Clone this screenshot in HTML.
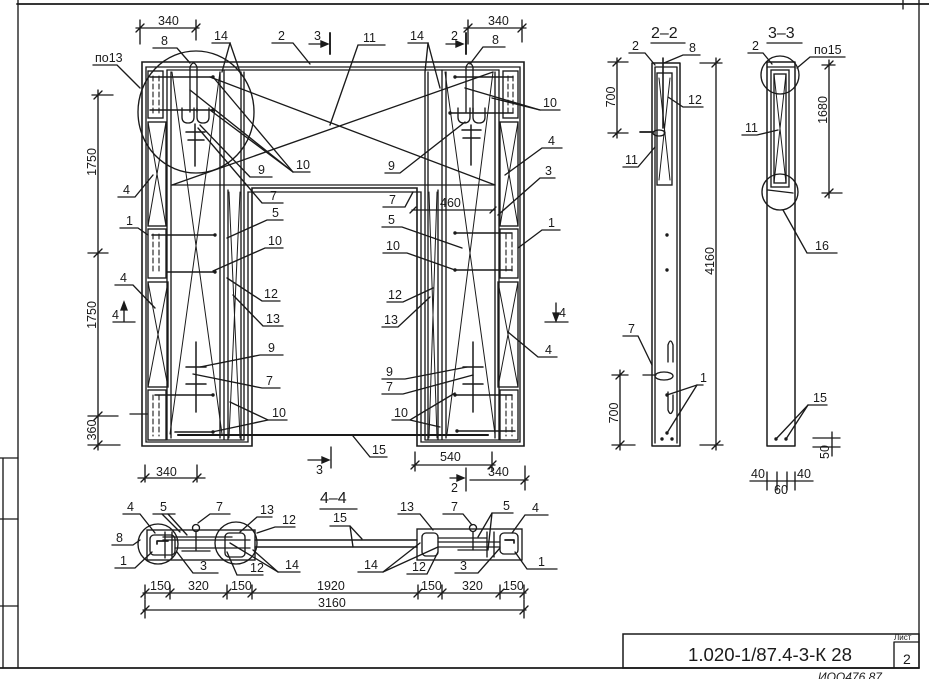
<!DOCTYPE html>
<html><head><meta charset="utf-8"><style>
html,body{margin:0;padding:0;background:#fff;width:929px;height:679px;overflow:hidden}
svg{display:block}
</style></head><body>
<svg width="929" height="679" viewBox="0 0 929 679" xmlns="http://www.w3.org/2000/svg">
<rect x="0" y="0" width="929" height="679" fill="#fff"/>
<g fill="none" stroke="#1a1a1a" stroke-width="1.35" stroke-linecap="round">
<!-- sheet border -->
<path d="M17,4 H929 M0,668 H919" stroke-width="1.8"/>
<path d="M18,0 V668 M919,0 V668 M903,0 V9"/>
<path d="M3,458 V668 M0,458 H18 M0,519 H18 M0,606 H18"/>
<!-- title block -->
<rect x="623" y="634" width="296" height="34" stroke-width="1.5"/>
<path d="M894,642 H919 M894,642 V668"/>

<!-- ===== FRAME ===== -->
<path d="M142,446 V62 H524 V446 H417 V188 H252 V446 Z" stroke-width="1.6"/>
<path d="M146,442 V67 H520 V442 H421 V192 H248 V442 Z"/>
<path d="M167,70 H499 M172,185 H495"/>
<!-- left column verticals -->
<path d="M167,70 V440 M171,72 V438 M220,72 V438 M224,70 V440 M228,190 V440 M241,72 V440 M244,72 V440 M167,440 H244"/>
<!-- right column verticals -->
<path d="M499,70 V440 M495,72 V438 M446,72 V438 M442,70 V440 M438,190 V440 M425,72 V440 M428,72 V440 M425,440 H499"/>
<!-- left side boxes -->
<rect x="148" y="71" width="15" height="47"/>
<rect x="148" y="122" width="18" height="104"/>
<rect x="148" y="229" width="18" height="49"/>
<rect x="148" y="282" width="20" height="105"/>
<rect x="148" y="390" width="18" height="50"/>
<path d="M148,122 L166,226 M166,122 L148,226 M148,282 L168,387 M168,282 L148,387" stroke-width="1"/>
<path d="M153,76 V114 M159,76 V114 M153,234 V274 M159,234 V274 M153,395 V436 M159,395 V436" stroke-dasharray="5,3" stroke-width="1.1"/>
<!-- right side boxes -->
<rect x="503" y="71" width="15" height="47"/>
<rect x="500" y="122" width="18" height="104"/>
<rect x="500" y="229" width="18" height="49"/>
<rect x="498" y="282" width="20" height="105"/>
<rect x="500" y="390" width="18" height="50"/>
<path d="M500,122 L518,226 M518,122 L500,226 M498,282 L518,387 M518,282 L498,387" stroke-width="1"/>
<path d="M508,76 V114 M513,76 V114 M506,234 V274 M512,234 V274 M506,395 V436 M512,395 V436" stroke-dasharray="5,3" stroke-width="1.1"/>
<!-- column X diagonals -->
<path d="M172,72 L222,434 M220,72 L170,434 M445,72 L495,434 M493,72 L447,434" stroke-width="1"/>
<path d="M229,192 L240,438 M240,192 L229,438 M429,192 L437,438 M437,192 L429,438" stroke-width="1"/>
<!-- bars (item 10) -->
<path d="M150,77 H213 M150,110 H213 M152,235 H215 M167,272 H215 M155,395 H213 M175,432 H213" stroke-width="1.6"/>
<path d="M455,77 H513 M450,113 H513 M455,233 H512 M455,270 H512 M455,395 H512 M457,431 H515" stroke-width="1.6"/>
<!-- top assemblies -->
<path d="M190,112 V67 Q193.5,59 197,67 V112"/>
<path d="M182,108 V117 Q182,123 188,123 Q194,123 194,117 V108 M197,108 V117 Q197,123 203,123 Q209,123 209,117 V108"/>
<path d="M195,124 V166 M186,132 H205 M188,140 H204" stroke-width="1.5"/>
<path d="M466,112 V67 Q469.5,59 473,67 V112"/>
<path d="M458,108 V117 Q458,123 464,123 Q470,123 470,117 V108 M473,108 V117 Q473,123 479,123 Q485,123 485,117 V108"/>
<path d="M471,125 V165 M462,130 H481 M463,138 H480" stroke-width="1.5"/>
<!-- bottom assemblies -->
<path d="M196,342 V412 M186,367 H206 M186,384 H206 M473,342 V412 M463,367 H483 M463,384 H483" stroke-width="1.5"/>
<!-- circle -->
<ellipse cx="196" cy="112" rx="58" ry="61"/>
<!-- beam X (11) -->
<path d="M172,185 L493,72 M210,77 L495,185"/>
<!-- bottom rebar 15 -->
<path d="M178,435 H488" stroke-width="2.1"/>

<!-- leaders left/top -->
<polyline points="93,65 117,65 140,88"/>
<polyline points="153,48 177,48 190,63"/>
<polyline points="212,43 230,43 222,72"/><polyline points="230,43 241,75"/>
<polyline points="272,43 293,43 310,64"/>
<path d="M309,44 H324"/><polygon points="328,44 321,41 321,47" fill="#1a1a1a"/><path d="M330,33 V54" stroke-width="1.9"/>
<polyline points="385,45 358,45 330,125"/>
<polyline points="408,43 428,43 425,72"/><polyline points="428,43 440,88"/>
<path d="M446,44 H459"/><polygon points="463,44 456,41 456,47" fill="#1a1a1a"/><path d="M466,33 V54" stroke-width="1.9"/>
<!-- dims 340 top -->
<path d="M136,28 H199 M140,20 V44 M196,20 V40 M136,32 L144,24 M192,32 L200,24"/>
<path d="M464,28 H526 M468,20 V44 M522,20 V42 M464,32 L472,24 M518,32 L526,24"/>
<polyline points="505,47 483,47 470,64"/>
<polyline points="560,110 540,110 465,88"/><polyline points="540,110 492,98"/>
<polyline points="562,148 542,148 505,175"/>
<polyline points="555,178 540,178 498,215"/>
<polyline points="560,230 542,230 518,248"/>
<polyline points="385,173 400,173 465,122"/>
<polyline points="383,207 405,207 413,192"/>
<path d="M412,210 H495 M410,213 L416,207 M490,213 L496,207"/>
<polyline points="382,227 402,227 462,248"/>
<polyline points="383,253 407,253 455,270"/>
<polyline points="387,302 403,302 433,288"/>
<polyline points="382,327 398,327 430,297"/>
<path d="M545,322 H568 M556,303 V316"/><polygon points="556,321 553,313 559,313" fill="#1a1a1a"/>
<polyline points="557,357 538,357 508,332"/>
<polyline points="382,379 405,379 467,367"/>
<polyline points="382,394 403,394 473,375"/>
<polyline points="392,420 410,420 455,393"/><polyline points="410,420 440,427"/>
<polyline points="387,457 370,457 353,436"/>
<path d="M412,465 H495 M415,452 V471 M492,452 V471 M411,469 L419,461 M488,469 L496,461"/>
<path d="M450,478 H460 M466,468 V491"/><polygon points="464,478 457,475 457,481" fill="#1a1a1a"/>
<path d="M470,480 H528 M525,466 V490 M521,484 L529,476"/>
<!-- left labels -->
<polyline points="118,197 135,197 153,175"/>
<polyline points="120,228 138,228 148,235"/>
<polyline points="272,177 250,177 200,125"/>
<polyline points="310,172 293,172 213,77"/><polyline points="293,172 190,90"/><polyline points="293,172 210,110"/>
<polyline points="283,203 262,203 198,128"/>
<polyline points="283,220 267,220 227,238"/>
<polyline points="283,248 265,248 213,271"/>
<polyline points="280,301 262,301 227,278"/>
<polyline points="283,326 263,326 233,295"/>
<polyline points="283,355 260,355 200,367"/>
<polyline points="280,388 262,388 193,374"/>
<polyline points="287,420 268,420 230,402"/><polyline points="268,420 212,432"/>
<polyline points="115,285 133,285 155,308"/>
<path d="M113,322 H135 M124,322 V308"/><polygon points="124,302 121,310 127,310" fill="#1a1a1a"/>
<path d="M130,414 H147"/>
<path d="M98,90 V450 M92,95 H113 M88,253 H108 M88,416 H118 M88,445 H120 M94,99 L102,91 M94,257 L102,249 M94,420 L102,412 M94,449 L102,441"/>
<path d="M138,478 H205 M145,465 V482 M197,465 V482 M141,482 L149,474 M193,482 L201,474"/>
<path d="M308,460 H324 M331,447 V468"/><polygon points="329,460 322,457 322,463" fill="#1a1a1a"/>

<!-- ===== SECTION 2-2 ===== -->
<path d="M651,43 H685"/>
<path d="M652,63 V446 M680,63 V446 M652,63 H680 M652,446 H680" stroke-width="1.5"/>
<path d="M655,67 V443 M677,67 V443 M655,67 H677"/>
<rect x="657" y="73" width="15" height="112"/>
<path d="M659,78 L670,180 M670,78 L659,180" stroke-width="1"/>
<path d="M663,58 V128" stroke-width="1.6"/>
<path d="M640,132 H653" stroke-width="1.7"/><ellipse cx="659" cy="133" rx="6" ry="3"/>
<polyline points="629,53 645,53 655,65"/>
<polyline points="700,55 683,55 664,63"/>
<polyline points="703,107 683,107 668,97"/>
<polyline points="623,167 638,167 655,147"/>
<path d="M617,58 V138 M608,62 H628 M608,133 H628 M613,66 L621,58 M613,137 L621,129"/>
<path d="M716,58 V450 M700,63 H722 M700,445 H723 M712,67 L720,59 M712,449 L720,441"/>
<path d="M668,362 V345 Q670.5,337 673,345 V362 M643,375 H656 M668,392 V410 Q670.5,417 673,410 V395"/>
<ellipse cx="664" cy="376" rx="9" ry="4"/>
<polyline points="623,336 638,336 652,365"/>
<polyline points="703,385 697,385 667,395"/><polyline points="697,385 667,433"/>
<path d="M620,370 V450 M612,375 H628 M612,445 H635 M616,379 L624,371 M616,449 L624,441"/>

<!-- ===== SECTION 3-3 ===== -->
<path d="M767,43 H802"/>
<path d="M767,62 V446 M795,62 V446 M767,62 H795 M767,446 H795" stroke-width="1.5"/>
<path d="M767,67 H795"/>
<rect x="771" y="70" width="18" height="117"/>
<rect x="774" y="74" width="12" height="109"/>
<path d="M774,74 L786,183 M786,74 L774,183" stroke-width="1"/>
<circle cx="780" cy="75" r="19"/>
<circle cx="780" cy="192" r="18"/>
<path d="M768,190 L793,193"/>
<polyline points="748,53 763,53 772,64"/>
<polyline points="845,57 810,57 797,68"/>
<polyline points="742,135 757,135 778,130"/>
<polyline points="837,253 807,253 783,210"/>
<path d="M829,60 V198 M822,65 H835 M822,193 H842 M825,69 L833,61 M825,197 L833,189"/>
<polyline points="827,405 808,405 776,439"/><polyline points="808,405 786,439"/>
<path d="M813,438 H840 M813,447 H840 M832,432 V456"/>
<path d="M750,481 H813 M767,472 V490 M777,472 V490 M787,472 V490 M795,472 V490"/>

<!-- ===== SECTION 4-4 ===== -->
<path d="M320,509 H357"/>
<rect x="147" y="530" width="108" height="30"/>
<rect x="150" y="535" width="25" height="20" rx="4"/>
<path d="M157,541 H168 M157,541 V544" stroke-width="1.7"/>
<rect x="225" y="533" width="20" height="24" rx="4"/>
<path d="M163,537 H232 M163,540 H250 M175,548 H250 M182,551 H210 M165,532 V558 M172,532 V558"/>
<circle cx="196" cy="528" r="3.5"/><path d="M196,532 V550"/>
<circle cx="158" cy="544" r="20"/>
<circle cx="236" cy="543" r="21"/>
<path d="M255,540 H417 M255,547 H417" stroke-width="1.5"/>
<rect x="417" y="529" width="105" height="31"/>
<rect x="422" y="533" width="16" height="23" rx="4"/>
<rect x="500" y="533" width="18" height="21" rx="4"/>
<path d="M505,540 H514 M514,540 V543" stroke-width="1.7"/>
<path d="M438,538 H487 M438,542 H500 M438,547 H500 M458,550 H487 M487,532 V557 M494,532 V557"/>
<circle cx="473" cy="528" r="3.5"/><path d="M473,532 V550"/>
<!-- 4-4 leaders -->
<polyline points="330,526 350,526 362,539"/><polyline points="350,526 353,547"/>
<polyline points="123,514 140,514 155,533"/>
<polyline points="175,514 153,514"/><polyline points="168,514 187,535"/><polyline points="162,514 180,532"/>
<polyline points="230,514 210,514 198,523"/>
<polyline points="272,517 257,517 240,532"/>
<polyline points="295,527 275,527 257,533"/>
<polyline points="112,545 133,545 140,540"/>
<polyline points="115,568 135,568 152,552"/>
<polyline points="218,573 193,573 177,552"/>
<polyline points="263,575 237,575 227,552"/>
<polyline points="300,572 278,572 230,543"/><polyline points="278,572 253,550"/>
<polyline points="398,514 420,514 433,530"/>
<polyline points="443,514 463,514 472,525"/>
<polyline points="513,513 492,513 478,537"/><polyline points="492,513 488,550"/>
<polyline points="548,515 525,515 512,533"/>
<polyline points="557,569 527,569 515,552"/>
<polyline points="455,573 478,573 500,548"/>
<polyline points="407,574 427,574 438,552"/>
<polyline points="358,572 383,572 420,543"/><polyline points="383,572 438,547"/>
<!-- 4-4 dims -->
<path d="M143,593 H526 M145,585 V599 M170,585 V599 M227,585 V599 M252,585 V599 M418,585 V599 M442,585 V599 M500,585 V599 M524,585 V599"/>
<path d="M141,597 L149,589 M166,597 L174,589 M223,597 L231,589 M248,597 L256,589 M414,597 L422,589 M438,597 L446,589 M496,597 L504,589 M520,597 L528,589"/>
<path d="M143,610 H526 M145,600 V618 M524,600 V618 M141,614 L149,606 M520,614 L528,606"/>
</g>
<!-- dots -->
<g fill="#1a1a1a">
<circle cx="213" cy="77" r="1.7"/><circle cx="213" cy="110" r="1.7"/><circle cx="215" cy="235" r="1.7"/><circle cx="215" cy="272" r="1.7"/><circle cx="213" cy="395" r="1.7"/><circle cx="213" cy="432" r="1.7"/>
<circle cx="455" cy="77" r="1.7"/><circle cx="450" cy="113" r="1.7"/><circle cx="455" cy="233" r="1.7"/><circle cx="455" cy="270" r="1.7"/><circle cx="455" cy="395" r="1.7"/><circle cx="457" cy="431" r="1.7"/>
<circle cx="667" cy="235" r="1.7"/><circle cx="667" cy="270" r="1.7"/><circle cx="667" cy="395" r="1.7"/><circle cx="667" cy="433" r="1.7"/><circle cx="662" cy="439" r="1.7"/><circle cx="672" cy="439" r="1.7"/>
<circle cx="776" cy="439" r="1.7"/><circle cx="786" cy="439" r="1.7"/>
</g>

<g font-family="Liberation Sans, sans-serif" font-size="12.5" fill="#1a1a1a">
<text x="95" y="62">по13</text>
<text x="161" y="45">8</text>
<text x="214" y="40">14</text>
<text x="278" y="40">2</text>
<text x="314" y="40">3</text>
<text x="363" y="42">11</text>
<text x="410" y="40">14</text>
<text x="451" y="40">2</text>
<text x="158" y="25">340</text>
<text x="488" y="25">340</text>
<text x="492" y="44">8</text>
<text x="543" y="107">10</text>
<text x="548" y="145">4</text>
<text x="545" y="175">3</text>
<text x="548" y="227">1</text>
<text x="388" y="170">9</text>
<text x="389" y="204">7</text>
<text x="440" y="207">460</text>
<text x="388" y="224">5</text>
<text x="386" y="250">10</text>
<text x="388" y="299">12</text>
<text x="384" y="324">13</text>
<text x="559" y="317">4</text>
<text x="545" y="354">4</text>
<text x="386" y="376">9</text>
<text x="386" y="391">7</text>
<text x="394" y="417">10</text>
<text x="372" y="454">15</text>
<text x="440" y="461">540</text>
<text x="451" y="492">2</text>
<text x="488" y="476">340</text>
<text x="123" y="194">4</text>
<text x="126" y="225">1</text>
<text x="258" y="174">9</text>
<text x="296" y="169">10</text>
<text x="270" y="200">7</text>
<text x="272" y="217">5</text>
<text x="268" y="245">10</text>
<text x="264" y="298">12</text>
<text x="266" y="323">13</text>
<text x="268" y="352">9</text>
<text x="266" y="385">7</text>
<text x="272" y="417">10</text>
<text x="120" y="282">4</text>
<text x="112" y="319">4</text>
<text x="156" y="476">340</text>
<text x="316" y="474">3</text>
<text transform="translate(96,162) rotate(-90)" text-anchor="middle">1750</text>
<text transform="translate(96,315) rotate(-90)" text-anchor="middle">1750</text>
<text transform="translate(96,430) rotate(-90)" text-anchor="middle">360</text>

<text x="651" y="38" font-size="16">2–2</text>
<text x="632" y="50">2</text>
<text x="689" y="52">8</text>
<text x="688" y="104">12</text>
<text x="625" y="164">11</text>
<text x="628" y="333">7</text>
<text x="700" y="382">1</text>
<text transform="translate(615,97) rotate(-90)" text-anchor="middle">700</text>
<text transform="translate(714,261) rotate(-90)" text-anchor="middle">4160</text>
<text transform="translate(618,413) rotate(-90)" text-anchor="middle">700</text>

<text x="768" y="38" font-size="16">3–3</text>
<text x="752" y="50">2</text>
<text x="814" y="54">по15</text>
<text x="745" y="132">11</text>
<text x="815" y="250">16</text>
<text x="813" y="402">15</text>
<text transform="translate(827,110) rotate(-90)" text-anchor="middle">1680</text>
<text transform="translate(829,452) rotate(-90)" text-anchor="middle">50</text>
<text x="751" y="478">40</text>
<text x="797" y="478">40</text>
<text x="774" y="494">60</text>

<text x="320" y="503" font-size="16">4–4</text>
<text x="333" y="522">15</text>
<text x="127" y="511">4</text>
<text x="160" y="511">5</text>
<text x="216" y="511">7</text>
<text x="260" y="514">13</text>
<text x="282" y="524">12</text>
<text x="116" y="542">8</text>
<text x="120" y="565">1</text>
<text x="200" y="570">3</text>
<text x="250" y="572">12</text>
<text x="285" y="569">14</text>
<text x="400" y="511">13</text>
<text x="451" y="511">7</text>
<text x="503" y="510">5</text>
<text x="532" y="512">4</text>
<text x="538" y="566">1</text>
<text x="460" y="570">3</text>
<text x="412" y="571">12</text>
<text x="364" y="569">14</text>
<text x="150" y="590">150</text>
<text x="188" y="590">320</text>
<text x="231" y="590">150</text>
<text x="317" y="590">1920</text>
<text x="421" y="590">150</text>
<text x="462" y="590">320</text>
<text x="503" y="590">150</text>
<text x="318" y="607">3160</text>

<text x="688" y="661" font-size="18" textLength="164" lengthAdjust="spacingAndGlyphs">1.020-1/87.4-3-К 28</text>
<text x="894" y="640" font-size="8">Лист</text>
<text x="903" y="664" font-size="14">2</text>
<text x="818" y="681" font-size="12" font-style="italic">ИОО476  87</text>
</g>
</svg>
</body></html>
